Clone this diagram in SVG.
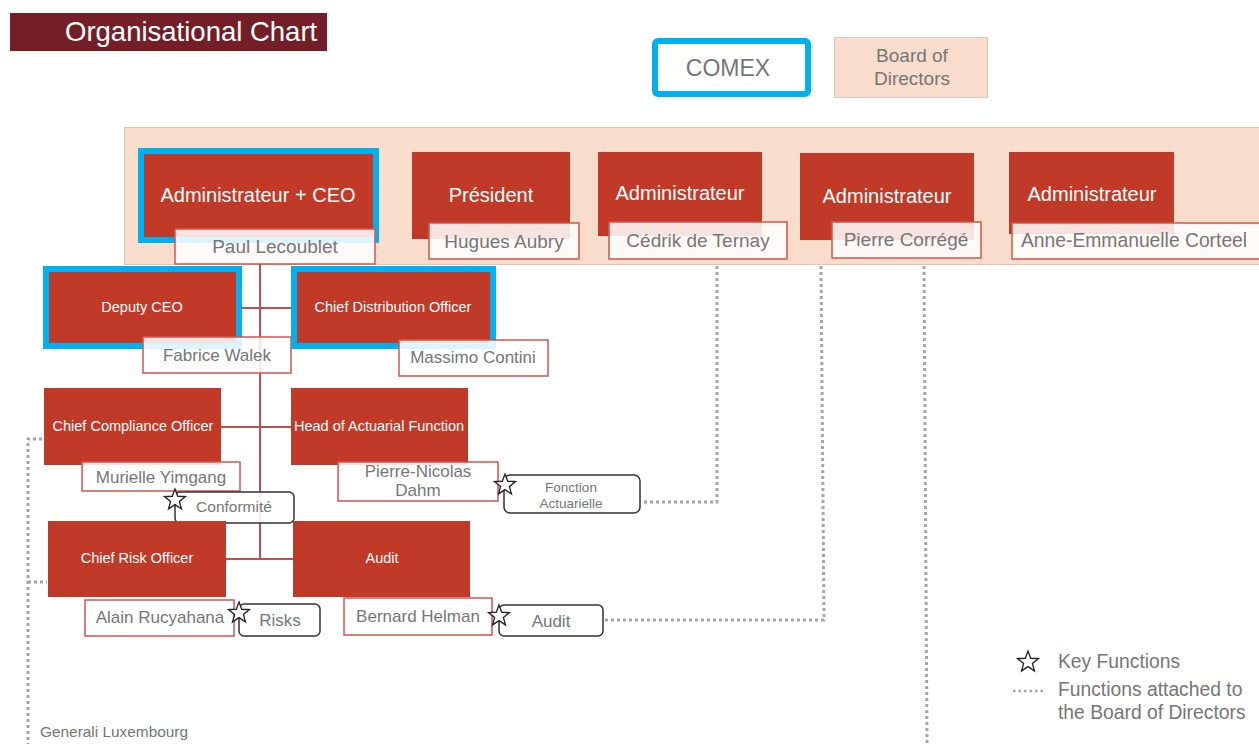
<svg xmlns="http://www.w3.org/2000/svg" xmlns:xlink="http://www.w3.org/1999/xlink" width="1259" height="744" viewBox="0 0 1259 744">
<defs>
<style>
text{font-family:"Liberation Sans",Arial,sans-serif}
.red{fill:#c13a28}
.blue{fill:none;stroke:#00b0f0;stroke-width:6}
.nm{fill:#ffffff;fill-opacity:0.86;stroke:#d2554b;stroke-width:1.5}
.kf{fill:#ffffff;fill-opacity:0.9;stroke:#333333;stroke-width:1.5}
.wt{fill:#ffffff;text-anchor:middle}
.gt{fill:#767676;text-anchor:middle}
.t20{font-size:20px}
.t19{font-size:19px}
.t17{font-size:17px}
.t14{font-size:14.5px}
.org{stroke:#c0504d;stroke-width:2;fill:none}
.dot{stroke:#a6a6a6;stroke-width:3;stroke-dasharray:3 3;fill:none}
.star{fill:#ffffff;stroke:#222222;stroke-width:1.3}
</style>
<path id="star" d="M0,-11 L2.72,-3.74 L10.46,-3.4 L4.39,1.43 L6.47,8.9 L0,4.62 L-6.47,8.9 L-4.39,1.43 L-10.46,-3.4 L-2.72,-3.74 Z"/>
</defs>
<rect width="1259" height="744" fill="#ffffff"/>

<g id="title">
<rect x="10" y="13" width="317" height="38" fill="#741f27"/>
<text x="65" y="41" font-size="27.5" fill="#ffffff">Organisational Chart</text>
</g>

<g id="comex">
<rect x="655" y="41" width="153" height="53" rx="3" class="blue"/>
<text x="728" y="76" font-size="23" class="gt">COMEX</text>
</g>
<g id="board-legend">
<rect x="834.5" y="37.5" width="153" height="60" fill="#f8ddcc" stroke="#dcc8be" stroke-width="1"/>
<text x="912" y="62" class="gt t19">Board of</text>
<text x="912" y="85" class="gt t19">Directors</text>
</g>

<g id="board-band">
<rect x="124.5" y="127.5" width="1140" height="137" fill="#f8ddcc" stroke="#e3c3b3" stroke-width="1"/>
</g>

<g id="connectors">
<line x1="260" y1="264" x2="260" y2="559" class="org"/>
<line x1="240" y1="308" x2="292" y2="308" class="org"/>
<line x1="221" y1="427" x2="291" y2="427" class="org"/>
<line x1="226" y1="559" x2="293" y2="559" class="org"/>
<polyline points="717,266 717,502 643,502" class="dot"/>
<polyline points="821,266 824,620 605,620" class="dot"/>
<line x1="924" y1="266" x2="927" y2="744" class="dot"/>
<polyline points="42,439 28,439 28,744" class="dot"/>
<line x1="28" y1="582" x2="47" y2="582" class="dot"/>
</g>

<g id="ceo">
<rect x="141" y="151" width="235" height="89" class="blue"/>
<rect x="144" y="154" width="229" height="83" class="red"/>
<text x="258" y="202" class="wt t20">Administrateur + CEO</text>
<rect x="175" y="229" width="200" height="35" class="nm"/>
<text x="275" y="253" class="gt t19">Paul Lecoublet</text>
</g>

<g id="president">
<rect x="412" y="152" width="158" height="87" class="red"/>
<text x="491" y="202" class="wt t20">Président</text>
<rect x="429" y="223" width="150" height="36" class="nm"/>
<text x="504" y="248" class="gt t19">Hugues Aubry</text>
</g>

<g id="admin-ternay">
<rect x="598" y="152" width="164" height="84" class="red"/>
<text x="680" y="200" class="wt t20">Administrateur</text>
<rect x="609" y="222" width="178" height="37" class="nm"/>
<text x="698" y="247" class="gt t19">Cédrik de Ternay</text>
</g>

<g id="admin-correge">
<rect x="800" y="153" width="174" height="87" class="red"/>
<text x="887" y="203" class="wt t20">Administrateur</text>
<rect x="832" y="222" width="149" height="36" class="nm"/>
<text x="906" y="246" class="gt t19">Pierre Corrégé</text>
</g>

<g id="admin-corteel">
<rect x="1009" y="152" width="165" height="82" class="red"/>
<text x="1092" y="201" class="wt t20">Administrateur</text>
<rect x="1012" y="223" width="260" height="36" class="nm"/>
<text x="1021" y="247" font-size="19.3" fill="#767676">Anne-Emmanuelle Corteel</text>
</g>

<g id="deputy-ceo">
<rect x="46" y="269" width="193" height="77" class="blue"/>
<rect x="49" y="272" width="187" height="71" class="red"/>
<text x="142" y="312" class="wt t14">Deputy CEO</text>
<rect x="143" y="337" width="148" height="36" class="nm"/>
<text x="217" y="361" class="gt t17">Fabrice Walek</text>
</g>

<g id="cdo">
<rect x="294" y="269" width="199" height="77" class="blue"/>
<rect x="297" y="272" width="193" height="71" class="red"/>
<text x="393" y="312" class="wt t14">Chief Distribution Officer</text>
<rect x="399" y="340" width="149" height="36" class="nm"/>
<text x="473" y="363" class="gt t17">Massimo Contini</text>
</g>

<g id="cco">
<rect x="44" y="388" width="177" height="77" class="red"/>
<text x="133" y="431" class="wt t14">Chief Compliance Officer</text>
<rect x="82" y="462" width="158" height="29" class="nm"/>
<text x="161" y="483" class="gt t17">Murielle Yimgang</text>
<rect x="175" y="492" width="119" height="31" rx="5" class="kf"/>
<text x="234" y="512" font-size="15.5" class="gt">Conformité</text>
<use xlink:href="#star" href="#star" x="175" y="500" class="star"/>
</g>

<g id="actuarial">
<rect x="291" y="388" width="177" height="77" class="red"/>
<text x="379" y="431" class="wt t14">Head of Actuarial Function</text>
<rect x="338" y="462" width="160" height="39" class="nm"/>
<text x="418" y="477" class="gt t17">Pierre-Nicolas</text>
<text x="418" y="496" class="gt t17">Dahm</text>
<rect x="504" y="475" width="136" height="38" rx="6" class="kf"/>
<text x="571" y="492" font-size="13.5" class="gt">Fonction</text>
<text x="571" y="508" font-size="13.5" class="gt">Actuarielle</text>
<use xlink:href="#star" href="#star" x="505" y="485" class="star"/>
</g>

<g id="cro">
<rect x="48" y="521" width="178" height="76" class="red"/>
<text x="137" y="563" class="wt t14">Chief Risk Officer</text>
<rect x="85" y="600" width="149" height="36" class="nm"/>
<text x="160" y="623" class="gt t17">Alain Rucyahana</text>
<rect x="239" y="604" width="81" height="32" rx="5" class="kf"/>
<text x="280" y="626" class="gt t17">Risks</text>
<use xlink:href="#star" href="#star" x="239" y="613" class="star"/>
</g>

<g id="audit">
<rect x="293" y="521" width="177" height="76" class="red"/>
<text x="382" y="563" class="wt t14">Audit</text>
<rect x="344" y="598" width="148" height="37" class="nm"/>
<text x="418" y="622" class="gt t17">Bernard Helman</text>
<rect x="499" y="605" width="104" height="31" rx="5" class="kf"/>
<text x="551" y="627" class="gt t17">Audit</text>
<use xlink:href="#star" href="#star" x="499" y="616" class="star"/>
</g>

<g id="legend">
<use xlink:href="#star" href="#star" x="1028" y="662" class="star"/>
<text x="1058" y="668" font-size="19.3" fill="#767676">Key Functions</text>
<line x1="1013" y1="691" x2="1046" y2="691" stroke="#a6a6a6" stroke-width="2.5" stroke-dasharray="2.5 3"/>
<text x="1058" y="696" font-size="19.3" fill="#767676">Functions attached to</text>
<text x="1058" y="719" font-size="19.3" fill="#767676">the Board of Directors</text>
</g>

<g id="footer">
<text x="40" y="737" font-size="15.4" fill="#767676">Generali Luxembourg</text>
</g>
</svg>
